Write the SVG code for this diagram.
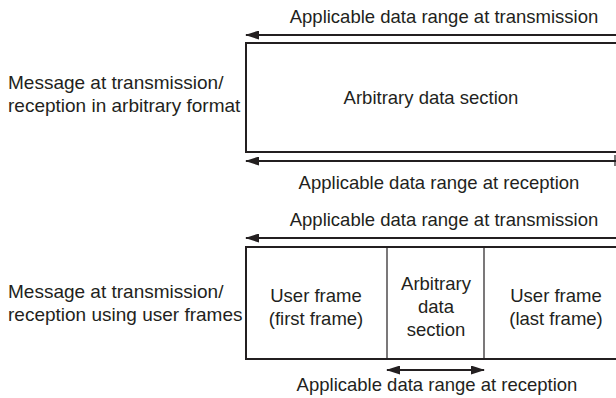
<svg xmlns="http://www.w3.org/2000/svg" width="616" height="398" viewBox="0 0 616 398">
<style>
text{font-family:"Liberation Sans",Arial,sans-serif;font-size:18.5px;fill:#231f20}
.lbl{font-size:19px}
.c{text-anchor:middle}
.box{fill:#fff;stroke:#231f20;stroke-width:2}
.div{stroke:#231f20;stroke-width:1.2}
.arr{stroke:#231f20;stroke-width:2.2;fill:none}
</style>
<defs>
<marker id="ah" viewBox="0 0 14 9" refX="13" refY="4.5" markerWidth="14" markerHeight="9" markerUnits="userSpaceOnUse" orient="auto-start-reverse">
<path d="M0,0 L14,4.5 L0,9 Z" fill="#231f20"/>
</marker>
</defs>
<rect width="616" height="398" fill="#fff"/>
<g id="msg1">
<text class="lbl" x="8" y="89">Message at transmission/</text>
<text class="lbl" x="8" y="112">reception in arbitrary format</text>
<rect class="box" x="246" y="43" width="380" height="109"/>
<text class="c" x="431" y="104">Arbitrary data section</text>
</g>
<g id="msg2">
<text class="lbl" x="8" y="298">Message at transmission/</text>
<text class="lbl" x="8" y="321">reception using user frames</text>
<rect class="box" x="246" y="247" width="380" height="112"/>
<line class="div" x1="387" y1="247" x2="387" y2="359"/>
<line class="div" x1="484" y1="247" x2="484" y2="359"/>
<text class="c" x="316" y="302">User frame</text>
<text class="c" x="316" y="325">(first frame)</text>
<text class="c" x="436" y="290">Arbitrary</text>
<text class="c" x="436" y="313">data</text>
<text class="c" x="436" y="336">section</text>
<text class="c" x="556" y="302">User frame</text>
<text class="c" x="556" y="325">(last frame)</text>
</g>
<g id="connectors">
<line class="arr" x1="616" y1="35" x2="246" y2="35" marker-end="url(#ah)"/>
<text class="c" x="444" y="23">Applicable data range at transmission</text>
<line class="arr" x1="616" y1="161" x2="246" y2="161" marker-end="url(#ah)"/>
<line class="div" x1="615" y1="155" x2="615" y2="166"/>
<text class="c" x="439" y="189">Applicable data range at reception</text>
<line class="arr" x1="616" y1="238" x2="246" y2="238" marker-end="url(#ah)"/>
<text class="c" x="444" y="226">Applicable data range at transmission</text>
<line class="arr" x1="387" y1="370" x2="484" y2="370" marker-start="url(#ah)" marker-end="url(#ah)"/>
<text class="c" x="437" y="391">Applicable data range at reception</text>
</g>
</svg>
